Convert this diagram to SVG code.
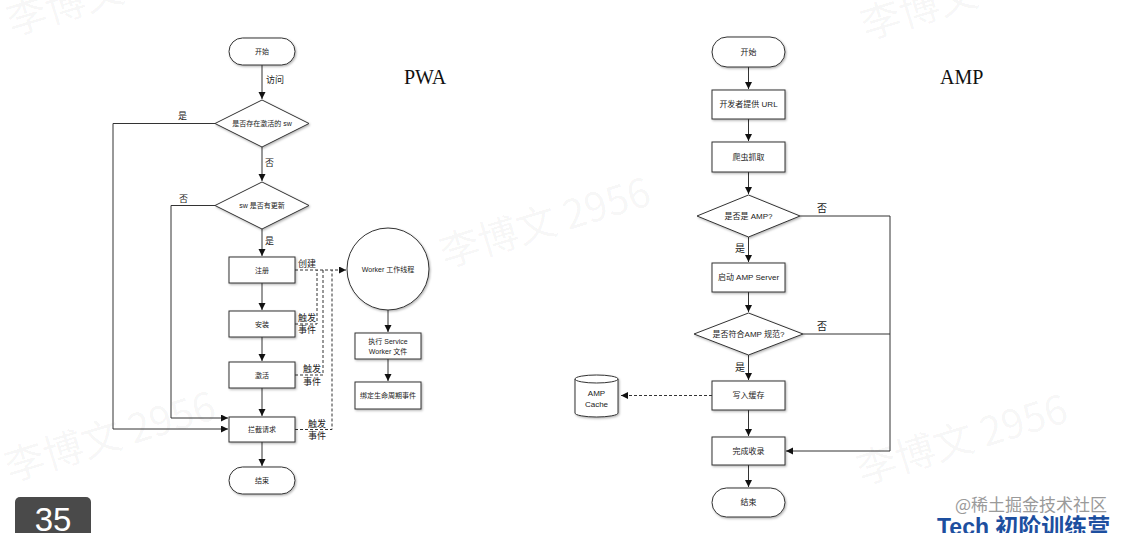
<svg xmlns="http://www.w3.org/2000/svg" width="1133" height="533" viewBox="0 0 1133 533">
<style>
.wm{font-family:"Noto Sans CJK SC","Liberation Sans",sans-serif;font-size:40px;fill:#000;fill-opacity:0.045}
.box{fill:#fff;stroke:#333;stroke-width:1}
.t7{font-family:"Liberation Sans","Noto Sans CJK SC",sans-serif;font-size:7px;fill:#222;text-anchor:middle;dominant-baseline:central}
.t8{font-family:"Liberation Sans","Noto Sans CJK SC",sans-serif;font-size:8px;fill:#222;text-anchor:middle;dominant-baseline:central}
.lbl{font-family:"Noto Sans CJK SC",sans-serif;font-size:9px;fill:#222}
.lbl10{font-family:"Noto Sans CJK SC",sans-serif;font-size:10px;fill:#222}
.ln{fill:none;stroke:#333;stroke-width:1}
.dash{fill:none;stroke:#333;stroke-width:1;stroke-dasharray:3,2}
.title{font-family:"Liberation Serif",serif;font-size:20px;fill:#111}
</style>
<defs>
<marker id="arr" markerUnits="userSpaceOnUse" markerWidth="8" markerHeight="8" refX="7" refY="3.5" orient="auto">
<path d="M0,0 L7,3.5 L0,7 z" fill="#111"/>
</marker>
<filter id="sh" x="-10%" y="-10%" width="130%" height="140%">
<feDropShadow dx="1" dy="1.2" stdDeviation="0.8" flood-color="#000" flood-opacity="0.3"/>
</filter>
</defs>
<rect width="1133" height="533" fill="#fff"/>
<g id="watermarks">
<text class="wm" transform="translate(445,268) rotate(-17)">李博文 2956</text>
<text class="wm" transform="translate(10,482) rotate(-17)">李博文 2956</text>
<text class="wm" transform="translate(862,485) rotate(-17)">李博文 2956</text>
<text class="wm" transform="translate(12,36) rotate(-17)">李博文</text>
<text class="wm" transform="translate(866,40) rotate(-17)">李博文</text>
</g>
<text class="title" x="404" y="84">PWA</text>
<text class="title" x="940" y="84">AMP</text>
<g id="connectors">
<path class="ln" d="M262,65 V99" marker-end="url(#arr)"/>
<path class="ln" d="M262,147 V181" marker-end="url(#arr)"/>
<path class="ln" d="M262,229 V256" marker-end="url(#arr)"/>
<path class="ln" d="M262,283 V310" marker-end="url(#arr)"/>
<path class="ln" d="M262,337 V361" marker-end="url(#arr)"/>
<path class="ln" d="M262,388 V416" marker-end="url(#arr)"/>
<path class="ln" d="M262,442 V466" marker-end="url(#arr)"/>
<path class="ln" d="M215,123.5 H113 V429 H228" marker-end="url(#arr)"/>
<path class="ln" d="M215,205.5 H171 V418 H228" marker-end="url(#arr)"/>
<path class="dash" d="M295,270 H346" marker-end="url(#arr)"/>
<path class="dash" d="M295,324 H317 V270"/>
<path class="dash" d="M295,375 H323 V270"/>
<path class="dash" d="M295,429.5 H332 V270"/>
<path class="ln" d="M388,310 V332" marker-end="url(#arr)"/>
<path class="ln" d="M388,359 V381" marker-end="url(#arr)"/>
<path class="ln" d="M748.5,67 V89" marker-end="url(#arr)"/>
<path class="ln" d="M748.5,119 V141" marker-end="url(#arr)"/>
<path class="ln" d="M748.5,172 V194" marker-end="url(#arr)"/>
<path class="ln" d="M748.5,237 V262" marker-end="url(#arr)"/>
<path class="ln" d="M748.5,292 V312" marker-end="url(#arr)"/>
<path class="ln" d="M748.5,355 V380" marker-end="url(#arr)"/>
<path class="ln" d="M748.5,410 V436" marker-end="url(#arr)"/>
<path class="ln" d="M748.5,465 V487" marker-end="url(#arr)"/>
<path class="ln" d="M800,216 H890 V451 H786" marker-end="url(#arr)"/>
<path class="ln" d="M803,334 H890"/>
<path class="dash" d="M712,395.5 H621" marker-end="url(#arr)"/>
</g>
<g id="labels">
<text class="lbl" x="266" y="83">访问</text>
<text class="lbl" x="178" y="119">是</text>
<text class="lbl" x="265" y="166">否</text>
<text class="lbl" x="179" y="202">否</text>
<text class="lbl" x="265" y="244">是</text>
<text class="lbl" x="298" y="267">创建</text>
<text class="lbl" x="298" y="321">触发</text>
<text class="lbl" x="298" y="333">事件</text>
<text class="lbl" x="303" y="372">触发</text>
<text class="lbl" x="303" y="385">事件</text>
<text class="lbl" x="308" y="427">触发</text>
<text class="lbl" x="308" y="439">事件</text>
<text class="lbl10" x="817" y="212">否</text>
<text class="lbl10" x="735" y="252">是</text>
<text class="lbl10" x="817" y="330">否</text>
<text class="lbl10" x="735" y="371">是</text>
</g>
<g id="pwa-start"><rect class="box" filter="url(#sh)" x="229" y="38" width="66" height="27" rx="13.5"/><text class="t7" x="262" y="51.5">开始</text></g>
<g id="pwa-d1"><polygon class="box" filter="url(#sh)" points="262,100 309,123.5 262,147 215,123.5"/><text class="t7" x="262" y="123.5">是否存在激活的 sw</text></g>
<g id="pwa-d2"><polygon class="box" filter="url(#sh)" points="262,182 309,205.5 262,229 215,205.5"/><text class="t7" x="262" y="205.5">sw 是否有更新</text></g>
<g id="pwa-register"><rect class="box" filter="url(#sh)" x="229" y="257" width="66" height="26"/><text class="t7" x="262" y="270">注册</text></g>
<g id="pwa-install"><rect class="box" filter="url(#sh)" x="229" y="311" width="66" height="26"/><text class="t7" x="262" y="324">安装</text></g>
<g id="pwa-activate"><rect class="box" filter="url(#sh)" x="229" y="362" width="66" height="26"/><text class="t7" x="262" y="375">激活</text></g>
<g id="pwa-intercept"><rect class="box" filter="url(#sh)" x="229" y="417" width="66" height="25"/><text class="t7" x="262" y="429.5">拦截请求</text></g>
<g id="pwa-end"><rect class="box" filter="url(#sh)" x="229" y="467" width="66" height="27" rx="13.5"/><text class="t7" x="262" y="480.5">结束</text></g>
<g id="pwa-worker"><circle class="box" filter="url(#sh)" cx="388" cy="269" r="41"/><text class="t7" x="388" y="269">Worker 工作线程</text></g>
<g id="pwa-exec"><rect class="box" filter="url(#sh)" x="355" y="333" width="66" height="26"/><text class="t7" x="388" y="341.5">执行 Service</text><text class="t7" x="388" y="351.5">Worker 文件</text></g>
<g id="pwa-bind"><rect class="box" filter="url(#sh)" x="355" y="382" width="66" height="27"/><text class="t7" x="388" y="395.5">绑定生命周期事件</text></g>
<g id="amp-start"><rect class="box" filter="url(#sh)" x="712" y="37" width="73" height="30" rx="15"/><text class="t8" x="748.5" y="52">开始</text></g>
<g id="amp-url"><rect class="box" filter="url(#sh)" x="712" y="90" width="73" height="29"/><text class="t8" x="748.5" y="104.5">开发者提供 URL</text></g>
<g id="amp-crawl"><rect class="box" filter="url(#sh)" x="712" y="142" width="73" height="30"/><text class="t8" x="748.5" y="157">爬虫抓取</text></g>
<g id="amp-d1"><polygon class="box" filter="url(#sh)" points="748.5,195 800,216 748.5,237 697,216"/><text class="t8" x="748.5" y="216">是否是 AMP?</text></g>
<g id="amp-server"><rect class="box" filter="url(#sh)" x="712" y="263" width="73" height="29"/><text class="t8" x="748.5" y="277.5">启动 AMP Server</text></g>
<g id="amp-d2"><polygon class="box" filter="url(#sh)" points="748.5,313 803,334 748.5,355 694,334"/><text class="t8" x="748.5" y="334">是否符合AMP 规范?</text></g>
<g id="amp-cache-write"><rect class="box" filter="url(#sh)" x="712" y="381" width="73" height="29"/><text class="t8" x="748.5" y="395.5">写入缓存</text></g>
<g id="amp-done"><rect class="box" filter="url(#sh)" x="712" y="437" width="73" height="28"/><text class="t8" x="748.5" y="451">完成收录</text></g>
<g id="amp-end"><rect class="box" filter="url(#sh)" x="712" y="488" width="73" height="29" rx="14.5"/><text class="t8" x="748.5" y="502.5">结束</text></g>
<g id="amp-cache"><path class="box" filter="url(#sh)" d="M575,379 A21.5,4 0 0 1 618,379 V413 A21.5,4 0 0 1 575,413 Z"/><path class="ln" d="M575,379 A21.5,4 0 0 0 618,379"/><text class="t8" x="596.5" y="393">AMP</text><text class="t8" x="596.5" y="404">Cache</text></g>
<g id="page-badge"><rect x="15" y="497" width="76" height="44" rx="5" fill="#4a4a4a"/><text x="53" y="531" font-family="Liberation Sans,sans-serif" font-size="33" fill="#fff" text-anchor="middle">35</text></g>
<g id="brand"><text x="955" y="511" font-family="Noto Sans CJK SC,sans-serif" font-size="17" fill="#9a9a9a">@稀土掘金技术社区</text><text x="937" y="535" font-family="Liberation Sans,Noto Sans CJK SC,sans-serif" font-size="23" font-weight="bold" fill="#1d4f9f">Tech 初阶训练营</text></g>
</svg>
